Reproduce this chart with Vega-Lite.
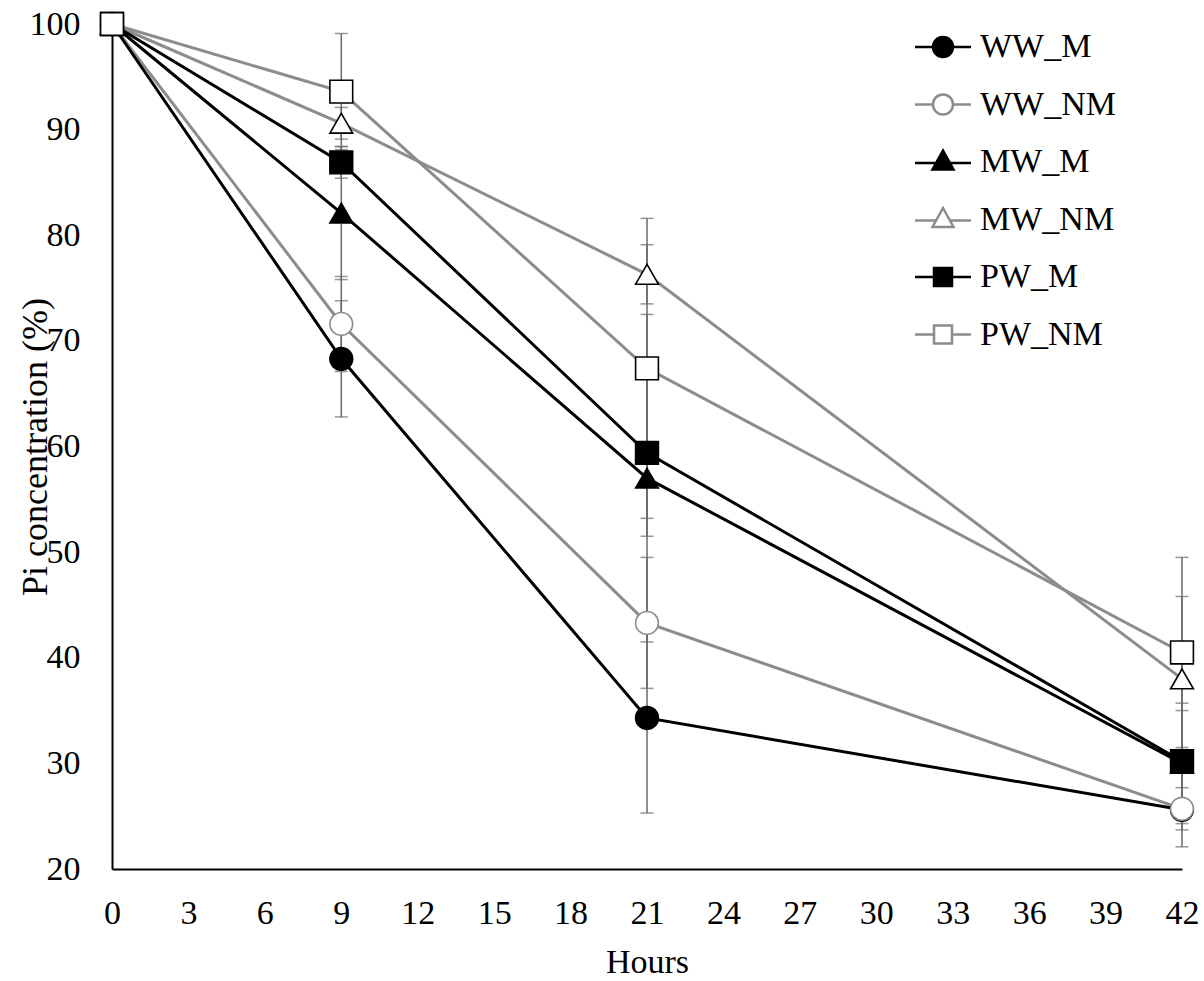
{
  "$schema": "https://vega.github.io/schema/vega-lite/v6.json",
  "width": 1070,
  "height": 845,
  "autosize": {"type": "none"},
  "padding": {"left": 112, "top": 24, "right": 22, "bottom": 112},
  "background": "white",
  "config": {
    "view": {"stroke": null},
    "font": "Liberation Serif",
    "axis": {"labelColor": "black", "titleColor": "black", "titleFontWeight": "normal", "labelFont": "Liberation Serif", "titleFont": "Liberation Serif"},
    "legend": {"orient": "none", "legendX": 814, "legendY": 6, "title": null, "labelFontSize": 34, "labelFont": "Liberation Serif", "labelColor": "black", "symbolSize": 400, "labelOffset": 20, "rowPadding": 23.5, "symbolStrokeWidth": 2.5, "symbolOpacity": 1}
  },
  "data": {
    "values": [
      {"series": "WW_M", "hours": 0, "value": 100, "err": 1},
      {"series": "WW_M", "hours": 9, "value": 68.3, "err": 5.5},
      {"series": "WW_M", "hours": 21, "value": 34.3, "err": 9},
      {"series": "WW_M", "hours": 42, "value": 25.6, "err": 3.5},
      {"series": "WW_NM", "hours": 0, "value": 100, "err": 1},
      {"series": "WW_NM", "hours": 9, "value": 71.6, "err": 4.5},
      {"series": "WW_NM", "hours": 21, "value": 43.3, "err": 6.2},
      {"series": "WW_NM", "hours": 42, "value": 25.7, "err": 2},
      {"series": "MW_M", "hours": 0, "value": 100, "err": 1},
      {"series": "MW_M", "hours": 9, "value": 82.1, "err": 6.3},
      {"series": "MW_M", "hours": 21, "value": 57.0, "err": 15.5},
      {"series": "MW_M", "hours": 42, "value": 30.0, "err": 5.7},
      {"series": "MW_NM", "hours": 0, "value": 100, "err": 1},
      {"series": "MW_NM", "hours": 9, "value": 90.6, "err": 1.5},
      {"series": "MW_NM", "hours": 21, "value": 76.3, "err": 2.8},
      {"series": "MW_NM", "hours": 42, "value": 38.0, "err": 7.8},
      {"series": "PW_M", "hours": 0, "value": 100, "err": 1},
      {"series": "PW_M", "hours": 9, "value": 86.9, "err": 1.5},
      {"series": "PW_M", "hours": 21, "value": 59.4, "err": 7.9},
      {"series": "PW_M", "hours": 42, "value": 30.2, "err": 4.8},
      {"series": "PW_NM", "hours": 0, "value": 100, "err": 1},
      {"series": "PW_NM", "hours": 9, "value": 93.6, "err": 5.5},
      {"series": "PW_NM", "hours": 21, "value": 67.4, "err": 14.2},
      {"series": "PW_NM", "hours": 42, "value": 40.5, "err": 9}
    ]
  },
  "encoding": {
    "x": {
      "field": "hours", "type": "quantitative",
      "scale": {"domain": [0, 42], "nice": false},
      "axis": {"values": [0, 3, 6, 9, 12, 15, 18, 21, 24, 27, 30, 33, 36, 39, 42], "title": "Hours", "grid": false, "ticks": false, "tickSize": 0, "domainColor": "black", "domainWidth": 2, "labelFontSize": 34, "labelFlush": false, "labelBaseline": "alphabetic", "labelPadding": 54, "titleFontSize": 34, "titleBaseline": "alphabetic", "titleY": 103}
    },
    "y": {
      "field": "value", "type": "quantitative",
      "scale": {"domain": [20, 100], "nice": false, "zero": false},
      "axis": {"values": [20, 30, 40, 50, 60, 70, 80, 90, 100], "title": "Pi concentration (%)", "grid": false, "ticks": false, "tickSize": 0, "domainColor": "black", "domainWidth": 2, "labelFontSize": 34, "labelFlush": false, "labelPadding": 32, "titleFontSize": 36, "titleBaseline": "alphabetic", "titleX": -66}
    }
  },
  "layer": [
    {
      "mark": {"type": "errorbar", "ticks": {"size": 13}, "color": "#6a6a6a", "thickness": 1.5},
      "encoding": {"yError": {"field": "err"}}
    },
    {
      "transform": [{"filter": "indexof(datum.series, '_NM') > 0"}],
      "mark": {"type": "line", "strokeWidth": 3, "color": "#8c8c8c"},
      "encoding": {"detail": {"field": "series"}}
    },
    {
      "transform": [{"filter": "indexof(datum.series, '_NM') < 0"}],
      "mark": {"type": "line", "strokeWidth": 3, "color": "black"},
      "encoding": {"detail": {"field": "series"}}
    },
    {
      "transform": [{"filter": "datum.series == 'WW_M'"}],
      "mark": {"type": "point", "shape": "circle", "filled": true, "opacity": 1, "size": 520, "fill": "black", "stroke": "black", "strokeWidth": 1.6}
    },
    {
      "transform": [{"filter": "datum.series == 'WW_NM'"}],
      "mark": {"type": "point", "shape": "circle", "filled": true, "opacity": 1, "size": 520, "fill": "white", "stroke": "#8c8c8c", "strokeWidth": 1.6}
    },
    {
      "transform": [{"filter": "datum.series == 'MW_M'"}],
      "mark": {"type": "point", "shape": "triangle-up", "filled": true, "opacity": 1, "size": 520, "fill": "black", "stroke": "black", "strokeWidth": 1.6}
    },
    {
      "transform": [{"filter": "datum.series == 'MW_NM'"}],
      "mark": {"type": "point", "shape": "triangle-up", "filled": true, "opacity": 1, "size": 520, "fill": "white", "stroke": "black", "strokeWidth": 1.6}
    },
    {
      "transform": [{"filter": "datum.series == 'PW_M'"}],
      "mark": {"type": "point", "shape": "square", "filled": true, "opacity": 1, "size": 520, "fill": "black", "stroke": "black", "strokeWidth": 1.6}
    },
    {
      "transform": [{"filter": "datum.series == 'PW_NM'"}],
      "mark": {"type": "point", "shape": "square", "filled": true, "opacity": 1, "size": 520, "fill": "white", "stroke": "black", "strokeWidth": 1.6}
    },
    {
      "mark": {"type": "point", "filled": true, "opacity": 0, "size": 400, "strokeWidth": 2.5},
      "encoding": {
        "shape": {
          "field": "series", "type": "nominal",
          "scale": {"domain": ["WW_M", "WW_NM", "MW_M", "MW_NM", "PW_M", "PW_NM"], "range": ["M-2.8,0H-1M1,0H2.8M1,0A1,1,0,1,1,-1,0A1,1,0,1,1,1,0Z", "M-2.8,0H-1M1,0H2.8M1,0A1,1,0,1,1,-1,0A1,1,0,1,1,1,0Z", "M-2.8,0.1H-0.58M0.58,0.1H2.8M0,-1.15L1.05,0.75L-1.05,0.75Z", "M-2.8,0.1H-0.58M0.58,0.1H2.8M0,-1.15L1.05,0.75L-1.05,0.75Z", "M-2.8,0H-0.9M0.9,0H2.8M-0.9,-0.9H0.9V0.9H-0.9Z", "M-2.8,0H-0.9M0.9,0H2.8M-0.9,-0.9H0.9V0.9H-0.9Z"]},
          "legend": {"orient": "none", "legendX": 814, "legendY": 6, "title": null, "symbolOpacity": 1, "symbolSize": 400, "symbolStrokeWidth": 2.5}
        },
        "fill": {
          "field": "series", "type": "nominal",
          "scale": {"domain": ["WW_M", "WW_NM", "MW_M", "MW_NM", "PW_M", "PW_NM"], "range": ["black", "white", "black", "white", "black", "white"]},
          "legend": {"orient": "none", "legendX": 814, "legendY": 6, "title": null, "symbolOpacity": 1, "symbolSize": 400, "symbolStrokeWidth": 2.5}
        },
        "stroke": {
          "field": "series", "type": "nominal",
          "scale": {"domain": ["WW_M", "WW_NM", "MW_M", "MW_NM", "PW_M", "PW_NM"], "range": ["black", "#8c8c8c", "black", "#8c8c8c", "black", "#8c8c8c"]},
          "legend": {"orient": "none", "legendX": 814, "legendY": 6, "title": null, "symbolOpacity": 1, "symbolSize": 400, "symbolStrokeWidth": 2.5}
        }
      }
    }
  ]
}
